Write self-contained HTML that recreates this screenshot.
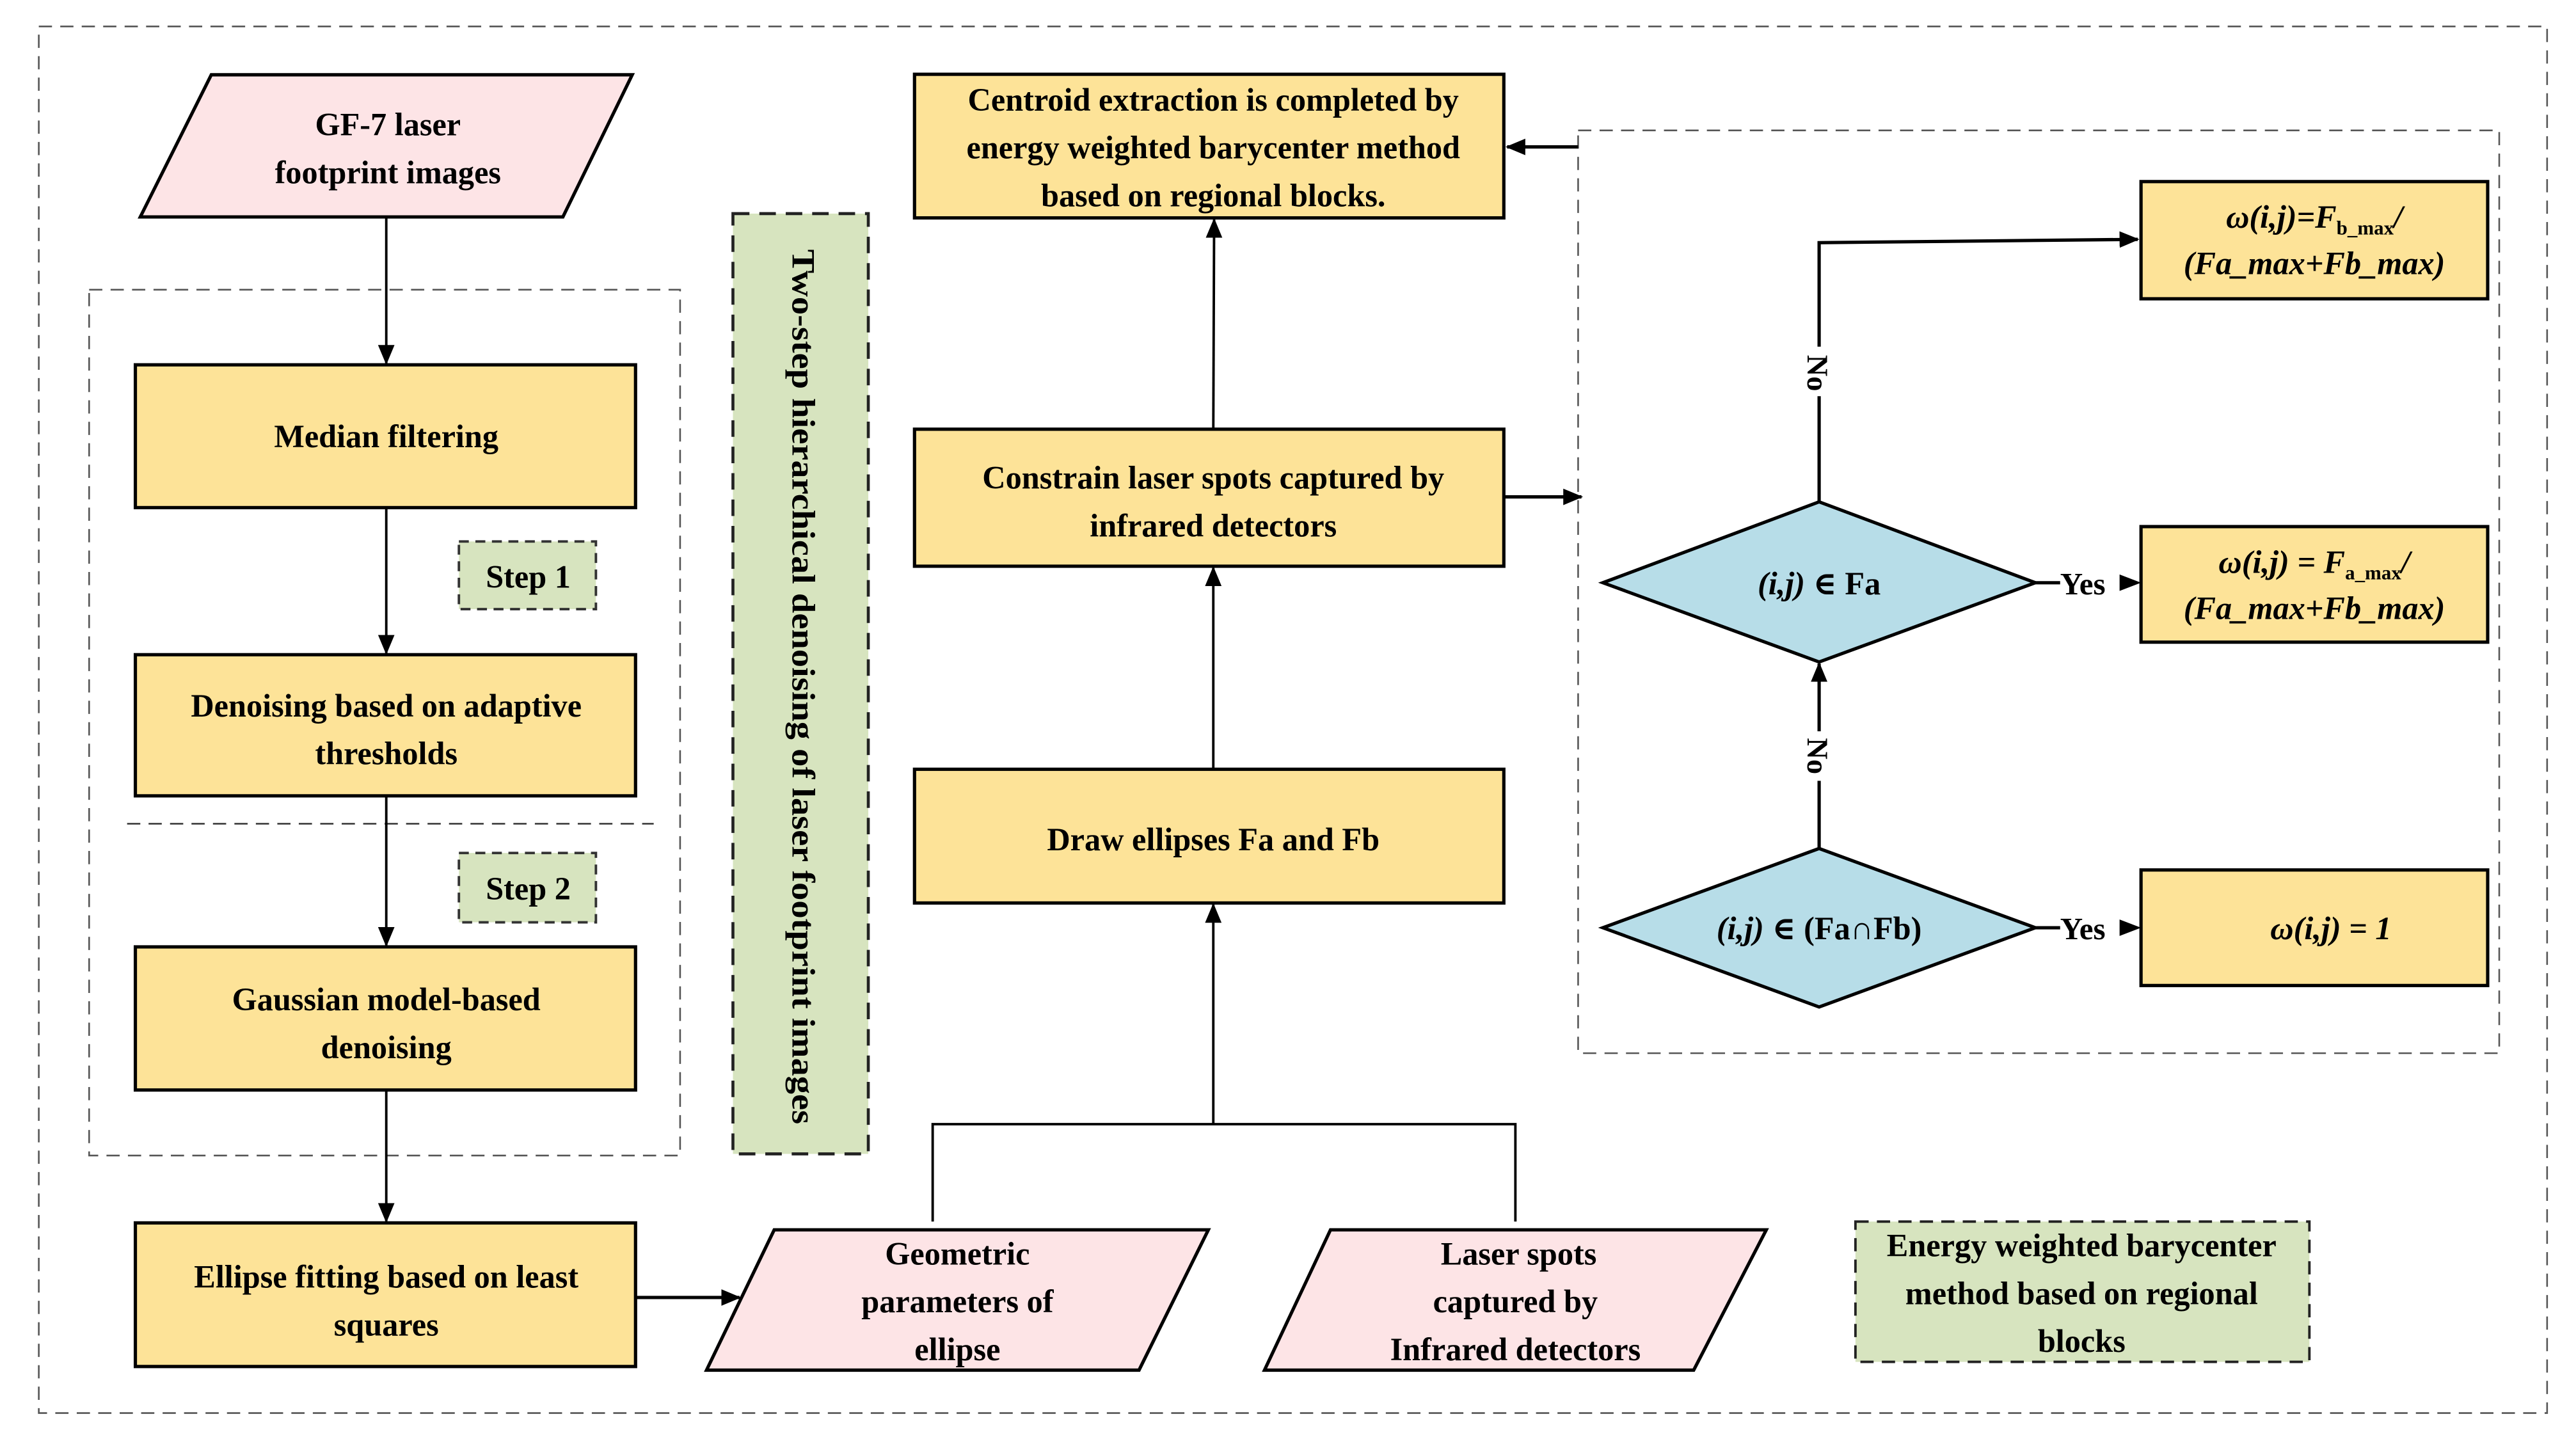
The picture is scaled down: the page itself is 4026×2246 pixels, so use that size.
<!DOCTYPE html>
<html><head><meta charset="utf-8"><style>html,body{margin:0;padding:0;background:#fff}svg{display:block}svg text{font-family:"Liberation Serif","DejaVu Serif",serif;font-weight:bold}</style></head>
<body>
<svg width="4026" height="2246" viewBox="0 0 1560.5 870.5" preserveAspectRatio="none" xmlns="http://www.w3.org/2000/svg" font-size="19.5">
<defs>
<marker id="a" markerWidth="12" markerHeight="10" refX="11" refY="5" orient="auto" markerUnits="userSpaceOnUse"><path d="M0,0 L12,5 L0,10 z" fill="#000"/></marker>
</defs>
<rect width="1560.5" height="870.5" fill="#fff"/>
<rect x="23.5" y="16" width="1519.5" height="840" fill="none" stroke="#555" stroke-width="1" stroke-dasharray="8,5"/>
<rect x="54" y="175.5" width="358" height="524.5" fill="none" stroke="#555" stroke-width="1" stroke-dasharray="8,5"/>
<line x1="77" y1="499" x2="396" y2="499" stroke="#333" stroke-width="1" stroke-dasharray="8,5"/>
<rect x="956" y="79" width="558" height="559" fill="none" stroke="#555" stroke-width="1" stroke-dasharray="8,5"/>

<polygon points="128,45.3 383,45.3 341,131.4 85,131.4" fill="#fde4e6" stroke="#000" stroke-width="2"/>
<text x="235" y="82" text-anchor="middle">GF-7 laser</text>
<text x="235" y="111" text-anchor="middle">footprint images</text>

<rect x="82" y="221" width="303" height="86.5" fill="#fde398" stroke="#000" stroke-width="2"/>
<text x="234" y="271" text-anchor="middle">Median filtering</text>
<rect x="82" y="396.6" width="303" height="85.5" fill="#fde398" stroke="#000" stroke-width="2"/>
<text x="234" y="434" text-anchor="middle">Denoising based on adaptive</text>
<text x="234" y="463" text-anchor="middle">thresholds</text>
<rect x="82" y="573.6" width="303" height="86.7" fill="#fde398" stroke="#000" stroke-width="2"/>
<text x="234" y="612" text-anchor="middle">Gaussian model-based</text>
<text x="234" y="641" text-anchor="middle">denoising</text>
<rect x="82" y="740.8" width="303" height="87" fill="#fde398" stroke="#000" stroke-width="2"/>
<text x="234" y="780" text-anchor="middle">Ellipse fitting based on least</text>
<text x="234" y="809" text-anchor="middle">squares</text>

<rect x="278" y="328" width="83" height="41" fill="#d7e4bf" stroke="#333" stroke-width="1.5" stroke-dasharray="6,4"/>
<text x="320" y="356" text-anchor="middle">Step 1</text>
<rect x="278" y="516.7" width="83" height="42" fill="#d7e4bf" stroke="#333" stroke-width="1.5" stroke-dasharray="6,4"/>
<text x="320" y="545" text-anchor="middle">Step 2</text>

<line x1="234" y1="131.4" x2="234" y2="220" stroke="#000" stroke-width="1.5" marker-end="url(#a)"/>
<line x1="234" y1="307.5" x2="234" y2="395.6" stroke="#000" stroke-width="1.5" marker-end="url(#a)"/>
<line x1="234" y1="482" x2="234" y2="572.6" stroke="#000" stroke-width="1.5" marker-end="url(#a)"/>
<line x1="234" y1="660.3" x2="234" y2="739.8" stroke="#000" stroke-width="1.5" marker-end="url(#a)"/>
<line x1="385" y1="786" x2="448" y2="786" stroke="#000" stroke-width="2" marker-end="url(#a)"/>

<rect x="444" y="129.4" width="82" height="569.6" fill="#d7e4bf" stroke="#222" stroke-width="1.8" stroke-dasharray="10,6"/>
<text transform="translate(480,416) rotate(90)" text-anchor="middle" textLength="530" lengthAdjust="spacingAndGlyphs">Two-step hierarchical denoising of laser footprint images</text>

<rect x="554" y="45" width="357" height="87" fill="#fde398" stroke="#000" stroke-width="2"/>
<text x="735" y="67" text-anchor="middle">Centroid extraction is completed by</text>
<text x="735" y="96" text-anchor="middle">energy weighted barycenter method</text>
<text x="735" y="125" text-anchor="middle">based on regional blocks.</text>
<rect x="554" y="260" width="357" height="83" fill="#fde398" stroke="#000" stroke-width="2"/>
<text x="735" y="296" text-anchor="middle">Constrain laser spots captured by</text>
<text x="735" y="325" text-anchor="middle">infrared detectors</text>
<rect x="554" y="466" width="357" height="81" fill="#fde398" stroke="#000" stroke-width="2"/>
<text x="735" y="515" text-anchor="middle">Draw ellipses Fa and Fb</text>

<line x1="735" y1="260" x2="735.5" y2="133" stroke="#000" stroke-width="1.5" marker-end="url(#a)"/>
<line x1="735" y1="466" x2="735" y2="344" stroke="#000" stroke-width="1.5" marker-end="url(#a)"/>
<polyline points="565,740 565,681 918,681 918,740" fill="none" stroke="#000" stroke-width="1.5"/>
<line x1="735" y1="681" x2="735" y2="548" stroke="#000" stroke-width="1.5" marker-end="url(#a)"/>
<line x1="956" y1="89" x2="913" y2="89" stroke="#000" stroke-width="2" marker-end="url(#a)"/>
<line x1="911" y1="301" x2="958" y2="301" stroke="#000" stroke-width="2" marker-end="url(#a)"/>

<polygon points="469,745 732,745 690,830 428,830" fill="#fde4e6" stroke="#000" stroke-width="2"/>
<text x="580" y="766" text-anchor="middle">Geometric</text>
<text x="580" y="795" text-anchor="middle">parameters of</text>
<text x="580" y="824" text-anchor="middle">ellipse</text>
<polygon points="806,745 1070,745 1026,830 766,830" fill="#fde4e6" stroke="#000" stroke-width="2"/>
<text x="920" y="766" text-anchor="middle">Laser spots</text>
<text x="918" y="795" text-anchor="middle">captured by</text>
<text x="918" y="824" text-anchor="middle">Infrared detectors</text>

<rect x="1124" y="740" width="275" height="85" fill="#d7e4bf" stroke="#222" stroke-width="1.5" stroke-dasharray="8,5"/>
<text x="1261" y="761" text-anchor="middle">Energy weighted barycenter</text>
<text x="1261" y="790" text-anchor="middle">method based on regional</text>
<text x="1261" y="819" text-anchor="middle">blocks</text>

<polygon points="1102,304 1233,353 1102,401 971,353" fill="#b7dde8" stroke="#000" stroke-width="2"/>
<text x="1102" y="360" text-anchor="middle"><tspan font-style="italic">(i,j)</tspan> ∈ Fa</text>
<polygon points="1102,514 1233,562 1102,610 971,562" fill="#b7dde8" stroke="#000" stroke-width="2"/>
<text x="1102" y="569" text-anchor="middle"><tspan font-style="italic">(i,j)</tspan> ∈ (Fa∩Fb)</text>

<rect x="1297" y="110" width="210" height="71" fill="#fde398" stroke="#000" stroke-width="2"/>
<text x="1402" y="138" text-anchor="middle" font-style="italic">ω(i,j)=F<tspan font-size="12" dy="4" font-style="normal">b_max</tspan><tspan dy="-4">/</tspan></text>
<text x="1402" y="166" text-anchor="middle" font-style="italic">(Fa_max+Fb_max)</text>
<rect x="1297" y="319" width="210" height="70" fill="#fde398" stroke="#000" stroke-width="2"/>
<text x="1402" y="347" text-anchor="middle" font-style="italic">ω(i,j) = F<tspan font-size="12" dy="4" font-style="normal">a_max</tspan><tspan dy="-4">/</tspan></text>
<text x="1402" y="375" text-anchor="middle" font-style="italic">(Fa_max+Fb_max)</text>
<rect x="1297" y="527" width="210" height="70" fill="#fde398" stroke="#000" stroke-width="2"/>
<text x="1412" y="569" text-anchor="middle" font-style="italic">ω(i,j) = 1</text>

<polyline points="1102,304 1102,147 1295,145" fill="none" stroke="#000" stroke-width="2" marker-end="url(#a)"/>
<rect x="1093" y="210" width="18" height="30" fill="#fff"/>
<text transform="translate(1095,226) rotate(90)" text-anchor="middle" font-size="18">No</text>
<line x1="1102" y1="514" x2="1102" y2="402" stroke="#000" stroke-width="2" marker-end="url(#a)"/>
<rect x="1093" y="443" width="18" height="30" fill="#fff"/>
<text transform="translate(1095,458) rotate(90)" text-anchor="middle" font-size="18">No</text>
<line x1="1233" y1="353" x2="1248" y2="353" stroke="#000" stroke-width="2"/>
<text x="1248" y="360" font-size="19">Yes</text>
<path d="M1284,348 L1297,353 L1284,358 z" fill="#000"/>
<line x1="1233" y1="562" x2="1248" y2="562" stroke="#000" stroke-width="2"/>
<text x="1248" y="569" font-size="19">Yes</text>
<path d="M1284,557 L1297,562 L1284,567 z" fill="#000"/>
</svg>
</body></html>
